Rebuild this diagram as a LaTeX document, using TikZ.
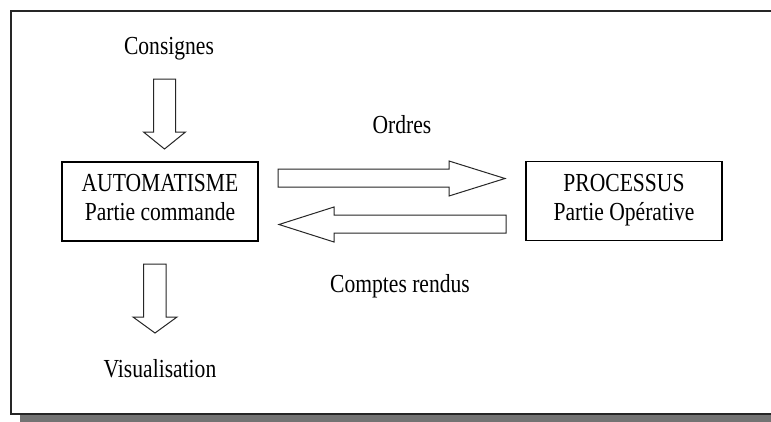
\documentclass[tikz,border=0pt]{standalone}
\usepackage{fontspec}
\setmainfont{Liberation Serif}[FakeStretch=0.83]
\begin{document}
\begin{tikzpicture}[x=1pt,y=-1pt,
  txt/.style={font=\fontsize{26}{28}\selectfont, inner sep=0pt, anchor=base},
  block/.style={draw=black, line width=1.6pt, fill=white, inner sep=0pt,
                minimum width=196pt, minimum height=79pt},
  hollow/.style={draw=black!85, line width=1pt, fill=white, line join=miter}]
  \useasboundingbox (0,0) rectangle (771,421);

  % outer frame with its drop shadow
  \fill[black!55] (20,20) rectangle (800,430);
  \draw[line width=2.2pt, draw=black!85, fill=white] (11,11) rectangle (790,414);

  % the two blocks
  \node[block] (auto) at (160,201.5) {};
  \node[txt] (autoA) at (160,191.7) {AUTOMATISME};
  \node[txt] (autoB) at (160,220) {Partie commande};

  \node[block] (proc) at (624,201) {};
  \node[txt] (procA) at (624,191.7) {PROCESSUS};
  \node[txt] (procB) at (624,220) {Partie Opérative};

  % labels
  \node[txt] (cons) at (169,54) {Consignes};
  \node[txt] (visu) at (160,377) {Visualisation};
  \node[txt] (ord)  at (402,133) {Ordres};
  \node[txt] (cr)   at (400,292) {Comptes rendus};

  % block arrows
  % Consignes -> automatisme
  \draw[hollow] (153.5,79) -- (175.5,79) -- (175.5,132) -- (185.5,132)
    -- (164.5,149) -- (143.5,132) -- (153.5,132) -- cycle;
  % automatisme -> visualisation
  \draw[hollow] (143.5,264) -- (166,264) -- (166,317) -- (177,317)
    -- (155,333) -- (133,317) -- (143.5,317) -- cycle;
  % ordres
  \draw[hollow] (278,169) -- (449,169) -- (449,161) -- (505,178.5)
    -- (449,196) -- (449,187) -- (278,187) -- cycle;
  % comptes rendus
  \draw[hollow] (506,215) -- (334,215) -- (334,207) -- (279,224.5)
    -- (334,242) -- (334,233) -- (506,233) -- cycle;
\end{tikzpicture}
\end{document}
